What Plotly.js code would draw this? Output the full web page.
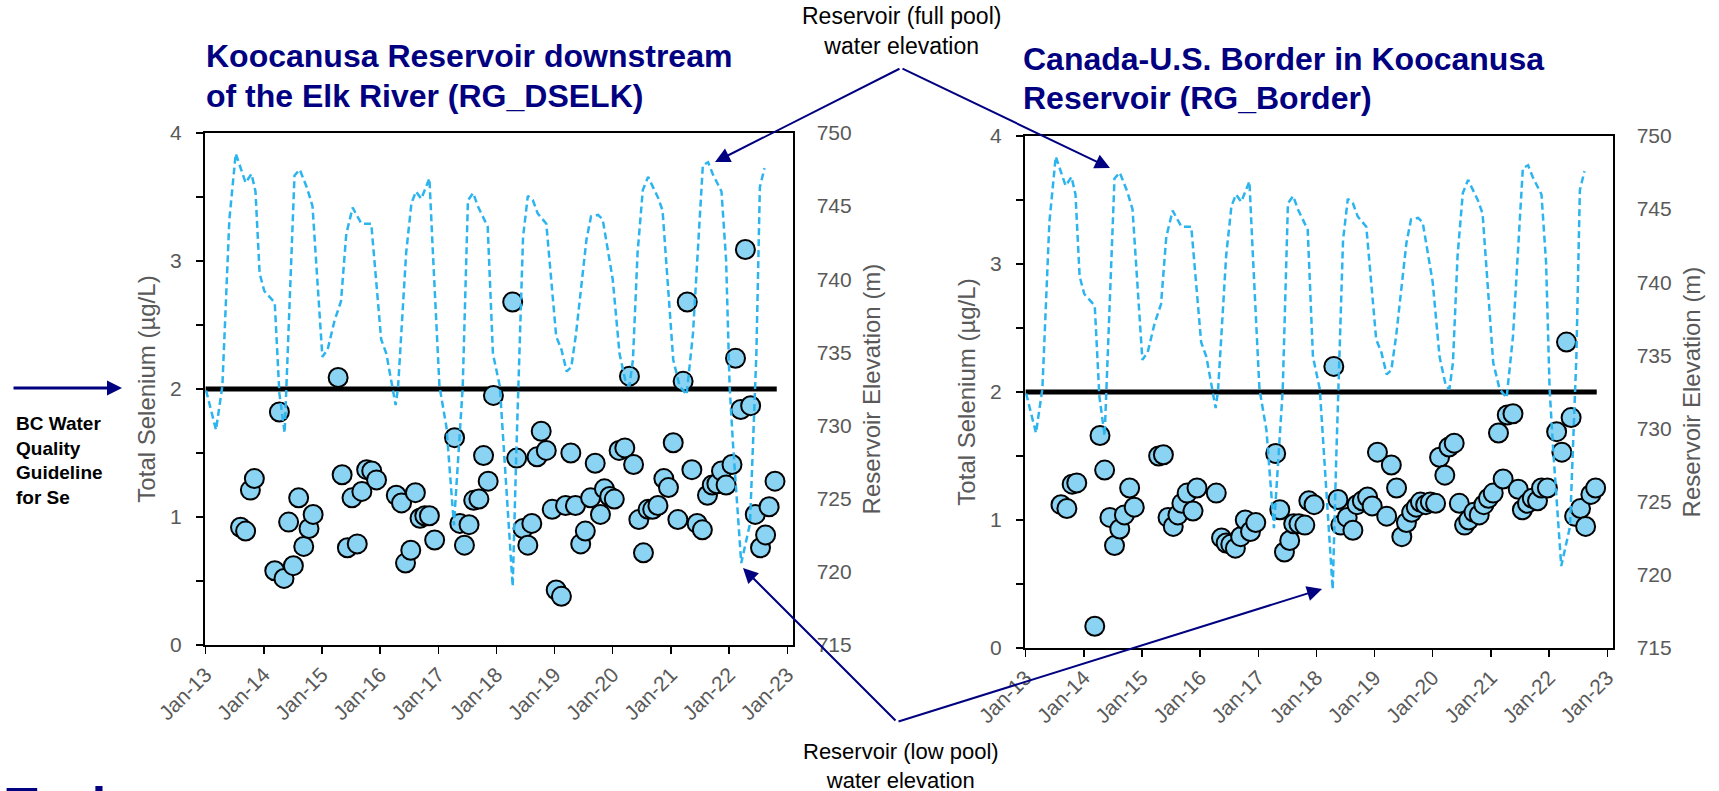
<!DOCTYPE html>
<html><head><meta charset="utf-8">
<script src="https://cdn.plot.ly/plotly-3.0.1.min.js"></script>
<style>html,body{margin:0;padding:0;background:#fff;} #chart{width:1719px;height:791px;}</style>
</head><body><div id="chart"></div>
<script>
// ---- Reservoir elevation (m), shared by both panels (decimal year, elevation) ----
const elevYear = [2013.01,2013.18,2013.29,2013.41,2013.52,2013.69,2013.79,2013.86,2013.93,2014.01,2014.19,2014.27,2014.36,2014.39,2014.53,2014.62,2014.75,2014.84,2015.01,2015.10,2015.22,2015.33,2015.42,2015.53,2015.68,2015.85,2016.02,2016.11,2016.22,2016.27,2016.31,2016.45,2016.54,2016.62,2016.71,2016.85,2016.91,2017.02,2017.14,2017.27,2017.42,2017.51,2017.60,2017.68,2017.85,2017.94,2018.06,2018.28,2018.34,2018.37,2018.46,2018.54,2018.63,2018.71,2018.86,2019.03,2019.12,2019.21,2019.29,2019.37,2019.55,2019.63,2019.75,2019.83,2020.00,2020.12,2020.23,2020.29,2020.35,2020.43,2020.52,2020.61,2020.69,2020.78,2020.86,2021.04,2021.15,2021.27,2021.38,2021.50,2021.55,2021.64,2021.72,2021.87,2021.95,2022.01,2022.07,2022.21,2022.36,2022.47,2022.53,2022.61];
const elevM = [732.4,729.7,732.7,744.1,748.6,746.6,747.2,746.0,740.4,739.2,738.4,732.2,729.5,732.5,747.1,747.5,746.2,745.0,734.7,735.2,737.2,738.5,743.1,744.9,743.8,743.8,735.9,734.9,732.5,731.4,732.6,741.8,745.2,746.0,745.5,746.9,741.8,732.7,729.9,723.2,732.6,745.4,745.9,745.0,743.6,734.9,732.7,719.0,727.9,732.0,742.9,745.7,745.4,744.5,743.8,736.1,735.2,733.7,734.0,736.3,742.7,744.3,744.4,744.1,740.0,734.9,732.9,732.7,734.5,741.8,746.1,747.0,746.3,745.6,744.7,734.5,732.7,732.1,736.3,744.7,747.8,748.0,747.2,746.0,741.3,732.7,728.6,720.6,723.3,734.9,746.3,747.6];

// ---- Total selenium, RG_DSELK (decimal year, ug/L) ----
const dselkYear = [2013.60,2013.69,2013.77,2013.84,2014.19,2014.27,2014.35,2014.43,2014.51,2014.60,2014.69,2014.78,2014.85,2015.28,2015.35,2015.44,2015.52,2015.61,2015.69,2015.77,2015.86,2015.94,2016.28,2016.37,2016.44,2016.53,2016.61,2016.69,2016.77,2016.85,2016.94,2017.28,2017.37,2017.45,2017.53,2017.61,2017.70,2017.78,2017.86,2017.95,2018.28,2018.35,2018.46,2018.54,2018.61,2018.70,2018.77,2018.86,2018.96,2019.03,2019.12,2019.19,2019.28,2019.36,2019.45,2019.53,2019.62,2019.70,2019.79,2019.86,2019.95,2020.03,2020.11,2020.21,2020.29,2020.36,2020.45,2020.53,2020.61,2020.69,2020.78,2020.88,2020.96,2021.04,2021.12,2021.21,2021.28,2021.36,2021.45,2021.54,2021.63,2021.71,2021.79,2021.87,2021.95,2022.05,2022.11,2022.20,2022.28,2022.37,2022.45,2022.54,2022.63,2022.69,2022.79];
const dselkSe = [0.92,0.89,1.21,1.30,0.58,1.82,0.52,0.96,0.62,1.15,0.77,0.91,1.02,2.09,1.33,0.76,1.15,0.79,1.20,1.37,1.36,1.29,1.17,1.11,0.64,0.74,1.19,0.99,1.01,1.01,0.82,1.62,0.95,0.78,0.94,1.13,1.14,1.48,1.28,1.95,2.68,1.46,0.91,0.78,0.95,1.47,1.67,1.52,1.06,0.43,0.38,1.09,1.50,1.09,0.79,0.89,1.15,1.42,1.02,1.22,1.16,1.14,1.52,1.54,2.10,1.41,0.98,0.72,1.06,1.06,1.09,1.30,1.23,1.58,0.98,2.06,2.68,1.37,0.95,0.90,1.17,1.25,1.26,1.36,1.25,1.41,2.24,1.84,3.09,1.87,1.02,0.76,0.86,1.08,1.28];

// ---- Total selenium, RG_Border (decimal year, ug/L) ----
const borderYear = [2013.61,2013.71,2013.80,2013.88,2014.19,2014.28,2014.36,2014.45,2014.53,2014.62,2014.70,2014.79,2014.87,2015.29,2015.37,2015.45,2015.54,2015.62,2015.69,2015.78,2015.88,2015.95,2016.28,2016.37,2016.45,2016.53,2016.61,2016.70,2016.78,2016.87,2016.96,2017.30,2017.37,2017.45,2017.54,2017.61,2017.70,2017.80,2017.87,2017.96,2018.30,2018.37,2018.42,2018.53,2018.63,2018.70,2018.79,2018.88,2018.96,2019.05,2019.21,2019.29,2019.38,2019.47,2019.55,2019.64,2019.72,2019.79,2019.88,2019.96,2020.05,2020.12,2020.21,2020.28,2020.37,2020.46,2020.55,2020.62,2020.71,2020.80,2020.88,2020.96,2021.04,2021.13,2021.21,2021.28,2021.38,2021.47,2021.54,2021.63,2021.71,2021.80,2021.87,2021.97,2022.13,2022.22,2022.30,2022.38,2022.44,2022.54,2022.63,2022.72,2022.80];
const borderSe = [1.12,1.09,1.28,1.29,0.17,1.66,1.39,1.02,0.80,0.93,1.04,1.25,1.10,1.50,1.51,1.02,0.95,1.04,1.13,1.21,1.07,1.25,1.21,0.86,0.82,0.81,0.78,0.87,1.00,0.91,0.98,1.52,1.08,0.75,0.84,0.97,0.97,0.96,1.15,1.12,2.20,1.16,0.96,1.02,0.92,1.12,1.15,1.18,1.11,1.53,1.03,1.43,1.25,0.87,0.98,1.06,1.10,1.14,1.12,1.14,1.13,1.49,1.35,1.57,1.60,1.13,0.96,1.00,1.06,1.04,1.12,1.17,1.21,1.68,1.32,1.82,1.83,1.24,1.08,1.13,1.17,1.15,1.25,1.25,1.69,1.53,2.39,1.80,1.03,1.09,0.95,1.20,1.25];

// ---- BC Water Quality Guideline for Se ----
const guideYear = [2013.0, 2022.82];
const guideSe = [2, 2];

// ---- Axis labels / ticks ----
const seTicks = [0,0.5,1,1.5,2,2.5,3,3.5,4];
const seTickText = ['0','','1','','2','','3','','4'];
const titleLeft = ['Koocanusa Reservoir downstream','of the Elk River (RG_DSELK)'];
const titleRight = ['Canada-U.S. Border in Koocanusa','Reservoir (RG_Border)'];

function yd(y){
  const yr = Math.floor(y);
  const t = Date.UTC(yr,0,1) + Math.round((y-yr)*365*86400000);
  return new Date(t).toISOString().slice(0,10);
}
const W=1719, H=791;
const fx = p => p/W, fy = p => 1-p/H;
const FONT = 'Liberation Sans, Arial, sans-serif';
const GREY = '#595959', NAVY = '#000080';
const LINEBLUE = '#2CB4EE', MARKBLUE = '#8AD3F3';

function traces(xa, ya, ya2, yrs, vals){
  return [
    {x: guideYear.map(yd), y: guideSe, xaxis: xa, yaxis: ya, mode:'lines',
     line:{color:'#000', width:5}, hoverinfo:'skip'},
    {x: yrs.map(yd), y: vals, xaxis: xa, yaxis: ya, mode:'markers',
     marker:{size:19, color:MARKBLUE, line:{color:'#000', width:2}}},
    {x: elevYear.map(yd), y: elevM, xaxis: xa, yaxis: ya2, mode:'lines',
     line:{color:LINEBLUE, width:2.5, dash:'7px,4px'}}
  ];
}
const data = [
  ...traces('x','y','y2', dselkYear, dselkSe),
  ...traces('x2','y3','y4', borderYear, borderSe)
];

function xax(dom, anchor){
  return {domain: dom, anchor: anchor, type:'date', range:['2012-12-28','2023-02-06'],
    tickformat:'%b-%y', dtick:'M12', tick0:'2013-01-01', tickangle:-45,
    ticks:'outside', ticklen:7, tickwidth:1.5, tickcolor:'#000',
    showline:true, linecolor:'#000', linewidth:2, mirror:true,
    showgrid:false, zeroline:false, tickfont:{size:21, color:GREY, family:FONT}};
}
function yax(dom, anchor){
  return {domain: dom, anchor: anchor, range:[0,4], tickvals: seTicks, ticktext: seTickText,
    ticks:'outside', ticklen:7, tickwidth:1.5, tickcolor:'#000',
    showline:true, linecolor:'#000', linewidth:2,
    showgrid:false, zeroline:false, ticklabelstandoff:10,
    tickfont:{size:21, color:GREY, family:FONT},
    title:{text:'Total Selenium (µg/L)', font:{size:24, color:GREY, family:FONT}, standoff:8}};
}
function y2ax(over, anchor){
  return {overlaying: over, anchor: anchor, side:'right', range:[715,750], tick0:715, dtick:5,
    ticks:'', showline:true, linecolor:'#000', linewidth:1.5,
    showgrid:false, zeroline:false, ticklabelstandoff:18,
    tickfont:{size:21, color:GREY, family:FONT},
    title:{text:'Reservoir Elevation (m)', font:{size:24, color:GREY, family:FONT}, standoff:12}};
}

function arrow(hx, hy, tx, ty, w, s){
  return {xref:'paper', yref:'paper', x: fx(hx), y: fy(hy), ax: tx-hx, ay: ty-hy,
    axref:'pixel', ayref:'pixel', text:'', showarrow:true, arrowhead:2,
    arrowsize:s, arrowwidth:w, arrowcolor:NAVY, standoff:0, startstandoff:0};
}
function txt(text, x, y, opts){
  return Object.assign({xref:'paper', yref:'paper', x: fx(x), y: fy(y), text: text,
    showarrow:false, xanchor:'center', yanchor:'middle',
    font:{family:FONT, size:23, color:'#000'}}, opts||{});
}
const TFONT = {family:FONT, size:32, color:NAVY, weight:'bold'};

const annotations = [
  txt(titleLeft[0], 204, 56, {xanchor:'left', font:TFONT}),
  txt(titleLeft[1], 204, 96, {xanchor:'left', font:TFONT}),
  txt(titleRight[0], 1021, 59, {xanchor:'left', font:TFONT}),
  txt(titleRight[1], 1021, 98, {xanchor:'left', font:TFONT}),
  txt('Reservoir (full pool)<br>water elevation', 901, 31),
  txt('Reservoir (low pool)<br>water elevation', 901, 766, {font:{family:FONT, size:22, color:'#000'}}),
  txt('BC Water<br>Quality<br>Guideline<br>for Se', 14, 460, {xanchor:'left', align:'left',
      font:{family:FONT, size:19, color:'#000', weight:'bold'}}),
  txt('Teck', 4, 775, {xanchor:'left', yanchor:'top', font:{family:FONT, size:52, color:NAVY, weight:'bold'}}),
  arrow(715, 162, 901, 68, 2, 1.5),
  arrow(1110, 168, 901, 68, 2, 1.5),
  arrow(743, 568, 897, 722, 2, 1.5),
  arrow(1322, 589, 897, 722, 2, 1.5),
  arrow(122, 388, 12, 388, 3, 1)
];

const layout = {
  width: W, height: H, margin:{l:0, r:0, t:0, b:0},
  paper_bgcolor:'#fff', plot_bgcolor:'rgba(0,0,0,0)', showlegend:false,
  font:{family:FONT, color:GREY},
  xaxis: xax([fx(205), fx(793)], 'y'),
  yaxis: yax([fy(645), fy(133)], 'x'),
  yaxis2: y2ax('y', 'x'),
  xaxis2: xax([fx(1025), fx(1613)], 'y3'),
  yaxis3: yax([fy(648), fy(136)], 'x2'),
  yaxis4: y2ax('y3', 'x2'),
  annotations: annotations
};
Plotly.newPlot('chart', data, layout, {displayModeBar:false, staticPlot:true});
</script></body></html>
